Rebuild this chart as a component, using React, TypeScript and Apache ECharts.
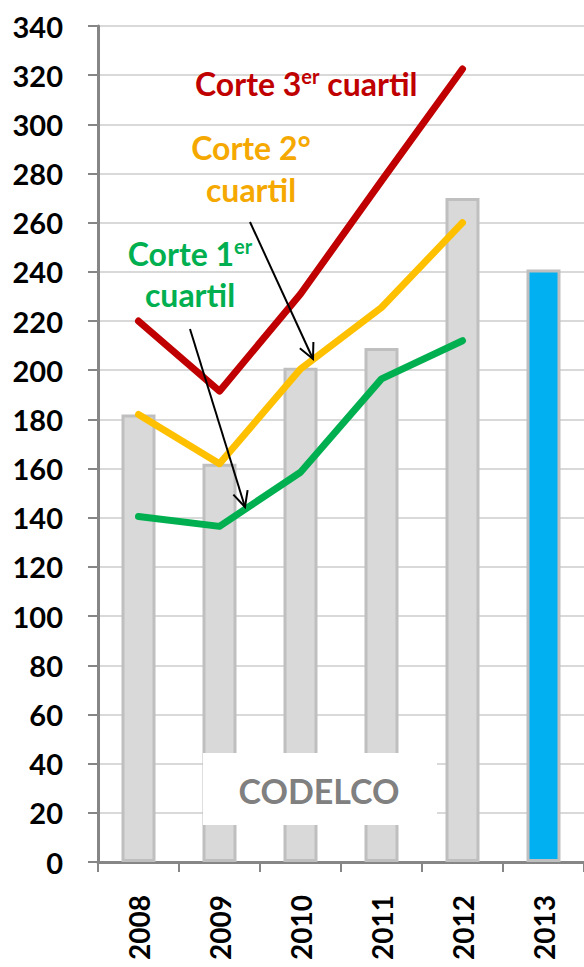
import React, { useEffect, useRef } from "react";
import * as echarts from "echarts";

const years = ["2008", "2009", "2010", "2011", "2012", "2013"];
const codelco = [182, 162, 201, 209, 270, 241];
const q3 = [220, 191.5, 231, 277, 322.5];
const q2 = [182, 162, 200.5, 225.5, 260];
const q1 = [140.5, 136.5, 158.5, 196.5, 212];
const yTicks = { min: 0, max: 340, interval: 20 };

const FONT = "Lato, 'Open Sans', sans-serif";

function arrow(x1: number, y1: number, x2: number, y2: number) {
  const dx = x2 - x1;
  const dy = y2 - y1;
  const len = Math.sqrt(dx * dx + dy * dy);
  const ux = dx / len;
  const uy = dy / len;
  const L = 17;
  const a = (26 * Math.PI) / 180;
  const rot = (ang: number) => [
    x2 - L * (ux * Math.cos(ang) - uy * Math.sin(ang)),
    y2 - L * (ux * Math.sin(ang) + uy * Math.cos(ang)),
  ];
  return [
    {
      type: "line",
      shape: { x1, y1, x2, y2 },
      style: { stroke: "#000", lineWidth: 2 },
      z: 20,
    },
    {
      type: "polyline",
      shape: { points: [rot(a), [x2, y2], rot(-a)] },
      style: { stroke: "#000", lineWidth: 2, fill: null },
      z: 20,
    },
  ];
}

export default function App() {
  const ref = useRef<HTMLDivElement>(null);
  useEffect(() => {
    document.body.style.margin = "0";
    if (!ref.current) return;
    const chart = echarts.init(ref.current, null, { renderer: "svg" });
    const rich = (color: string) => ({
      a: { fontSize: 32, fontWeight: "bold", fontFamily: FONT, fill: color, lineHeight: 34 },
      s: { fontSize: 20, fontWeight: "bold", fontFamily: FONT, fill: color, lineHeight: 18, verticalAlign: "top" },
    });
    chart.setOption({
      animation: false,
      backgroundColor: "#fff",
      grid: { left: 98, right: 0, top: 26, bottom: 105 },
      xAxis: {
        type: "category",
        data: years,
        axisLine: { lineStyle: { color: "#868686", width: 3 } },
        axisTick: { show: true, length: 10, lineStyle: { color: "#868686", width: 2 } },
        axisLabel: {
          rotate: 90,
          margin: 33,
          color: "#000",
          fontSize: 28,
          fontWeight: "bold",
          fontFamily: FONT,
        },
        splitLine: { show: false },
      },
      yAxis: {
        type: "value",
        min: yTicks.min,
        max: yTicks.max,
        interval: yTicks.interval,
        axisLine: { show: true, lineStyle: { color: "#868686", width: 3 } },
        axisTick: { show: true, length: 10, lineStyle: { color: "#868686", width: 2 } },
        axisLabel: {
          margin: 35,
          color: "#000",
          fontSize: 29,
          fontWeight: "bold",
          fontFamily: FONT,
        },
        splitLine: { lineStyle: { color: "#d9d9d9", width: 2 } },
      },
      series: [
        {
          type: "bar",
          data: codelco.map((v, i) =>
            i === codelco.length - 1
              ? { value: v, itemStyle: { color: "#00b0f0" } }
              : v
          ),
          barWidth: 34,
          itemStyle: { color: "#d9d9d9", borderColor: "#bfbfbf", borderWidth: 3 },
          z: 2,
        },
        {
          type: "line",
          data: q3,
          symbol: "none",
          lineStyle: { color: "#c00000", width: 7, cap: "round", join: "round" },
          z: 5,
        },
        {
          type: "line",
          data: q2,
          symbol: "none",
          lineStyle: { color: "#ffc000", width: 7, cap: "round", join: "round" },
          z: 5,
        },
        {
          type: "line",
          data: q1,
          symbol: "none",
          lineStyle: { color: "#00b050", width: 7, cap: "round", join: "round" },
          z: 5,
        },
      ],
      graphic: [
        {
          type: "rect",
          shape: { x: 203, y: 753, width: 234, height: 72 },
          style: { fill: "#fff" },
          z: 10,
        },
        {
          type: "text",
          x: 319,
          y: 790,
          style: {
            text: "CODELCO",
            fill: "#808080",
            font: `bold 34px ${FONT}`,
            textAlign: "center",
            textVerticalAlign: "middle",
          },
          z: 11,
        },
        {
          type: "text",
          x: 195,
          y: 83,
          style: {
            text: "{a|Corte 3}{s|er}{a| cuartil}",
            rich: rich("#c00000"),
            textAlign: "left",
            textVerticalAlign: "middle",
          },
          z: 12,
        },
        {
          type: "text",
          x: 251,
          y: 147,
          style: {
            text: "Corte 2°",
            fill: "#f5a800",
            font: `bold 32px ${FONT}`,
            textAlign: "center",
            textVerticalAlign: "middle",
          },
          z: 12,
        },
        {
          type: "text",
          x: 251,
          y: 189,
          style: {
            text: "cuartil",
            fill: "#f5a800",
            font: `bold 32px ${FONT}`,
            textAlign: "center",
            textVerticalAlign: "middle",
          },
          z: 12,
        },
        {
          type: "text",
          x: 190,
          y: 253,
          style: {
            text: "{a|Corte 1}{s|er}",
            rich: rich("#00b050"),
            textAlign: "center",
            textVerticalAlign: "middle",
          },
          z: 12,
        },
        {
          type: "text",
          x: 190,
          y: 294,
          style: {
            text: "cuartil",
            fill: "#00b050",
            font: `bold 32px ${FONT}`,
            textAlign: "center",
            textVerticalAlign: "middle",
          },
          z: 12,
        },
        ...arrow(250, 222, 313, 359),
        ...arrow(190, 329, 245, 507),
      ],
    });
    return () => chart.dispose();
  }, []);
  return <div ref={ref} style={{ width: 584, height: 967 }} />;
}
